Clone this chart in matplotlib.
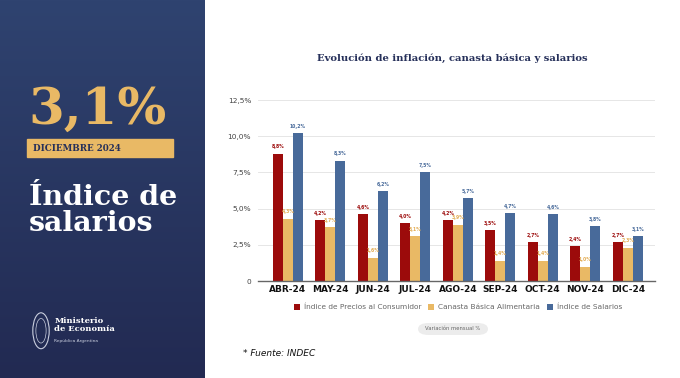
import numpy as np
import matplotlib
matplotlib.use('Agg')
import matplotlib.pyplot as plt
from matplotlib.patches import FancyBboxPatch, Rectangle, Ellipse

months = ['ABR-24', 'MAY-24', 'JUN-24', 'JUL-24', 'AGO-24', 'SEP-24', 'OCT-24', 'NOV-24', 'DIC-24']
ipc = [8.8, 4.2, 4.6, 4.0, 4.2, 3.5, 2.7, 2.4, 2.7]
cba = [4.3, 3.7, 1.6, 3.1, 3.9, 1.4, 1.4, 1.0, 2.3]
salarios = [10.2, 8.3, 6.2, 7.5, 5.7, 4.7, 4.6, 3.8, 3.1]
series_names = ['Índice de Precios al Consumidor', 'Canasta Básica Alimentaria', 'Índice de Salarios']
yticks = [0, 2.5, 5.0, 7.5, 10.0, 12.5]

red = '#9c0b0b'
gold = '#e9b965'
blue = '#486a9a'
navy = '#26305a'

fig = plt.figure(figsize=(6.8, 3.78), dpi=100)
fig.patch.set_facecolor('white')

# left panel with gradient
panel = fig.add_axes([0, 0, 205 / 680, 1])
grad = np.linspace(0, 1, 256).reshape(-1, 1)
cmap = matplotlib.colors.LinearSegmentedColormap.from_list('g', ['#2f4370', '#222a52'])
panel.imshow(grad, aspect='auto', cmap=cmap, extent=[0, 1, 0, 1])
panel.set_xlim(0, 1)
panel.set_ylim(0, 1)
panel.axis('off')

serif = 'DejaVu Serif'
panel.text(0.14, 0.672, '3,1%', color=gold, fontsize=37, fontweight='bold',
           family=serif, va='baseline', ha='left')
panel.add_patch(Rectangle((0.13, 0.585), 0.715, 0.048, color=gold))
panel.text(0.16, 0.608, 'DICIEMBRE 2024', color=navy, fontsize=6.3, fontweight='bold',
           family=serif, va='center', ha='left')
panel.text(0.14, 0.388, 'Índice de\nsalarios', color='white', fontsize=20.5, fontweight='bold',
           family=serif, va='baseline', ha='left', linespacing=0.95)
# emblem + ministry text
panel.add_patch(Ellipse((0.2, 0.125), 0.08, 0.095, fill=False, ec='#c9cede', lw=0.8))
panel.add_patch(Ellipse((0.2, 0.125), 0.05, 0.065, fill=False, ec='#c9cede', lw=0.5))
panel.text(0.265, 0.14, 'Ministerio\nde Economía', color='white', fontsize=6, fontweight='bold',
           family=serif, va='center', ha='left', linespacing=1.0)
panel.text(0.265, 0.097, 'República Argentina', color='#c9cede', fontsize=3.2,
           va='center', ha='left')

# bar chart
ax = fig.add_axes([258 / 680, 1 - 281 / 378, (655 - 258) / 680, (281 - 100) / 378])
x = np.arange(len(months))
w = 0.235
b1 = ax.bar(x - w, ipc, w, color=red, label=series_names[0], zorder=3)
b2 = ax.bar(x, cba, w, color=gold, label=series_names[1], zorder=3)
b3 = ax.bar(x + w, salarios, w, color=blue, label=series_names[2], zorder=3)

def fmt(v):
    return ('%.1f%%' % v).replace('.', ',')

for bars, vals, c in [(b1, ipc, red), (b2, cba, '#e3ad55'), (b3, salarios, blue)]:
    for rect, v in zip(bars, vals):
        ax.text(rect.get_x() + rect.get_width() / 2, v + 0.3, fmt(v), ha='center', va='bottom',
                fontsize=3.3, fontweight='bold', color=c, zorder=4)

ax.set_xlim(-0.7, len(months) - 1 + 0.64)
ax.set_ylim(0, 12.5)
ax.set_yticks(yticks)
ax.set_yticklabels(['0'] + [('%.1f%%' % t).replace('.', ',') for t in yticks[1:]],
                   fontsize=5.3, color='#444444')
ax.set_xticks(x)
ax.set_xticklabels(months, fontsize=6.5, fontweight='bold', color='#111111')
ax.tick_params(length=0, pad=3)
ax.tick_params(axis='y', pad=5)
ax.grid(axis='y', color='#e6e6e6', lw=0.7, zorder=0)
for s in ['top', 'right', 'left']:
    ax.spines[s].set_visible(False)
ax.spines['bottom'].set_color('#666666')
ax.spines['bottom'].set_linewidth(1.0)
ax.spines['bottom'].set_zorder(5)
ax.set_facecolor('white')

fig.text(452 / 680, 1 - 58 / 378, 'Evolución de inflación, canasta básica y salarios',
         ha='center', va='center', fontsize=7.2, fontweight='bold', family=serif, color=navy)

leg = fig.legend(handles=[b1, b2, b3], loc='center', bbox_to_anchor=(458 / 680, 1 - 307 / 378),
                 ncol=3, frameon=False, fontsize=5.3, handlelength=0.8, handleheight=0.8,
                 handletextpad=0.5, columnspacing=1.0, labelcolor='#666666')

pill = FancyBboxPatch((418 / 680, 1 - 335 / 378), 70 / 680, 12 / 378,
                      boxstyle='round,pad=0,rounding_size=0.016', transform=fig.transFigure,
                      fc='#ececec', ec='none')
fig.patches.append(pill)
fig.text(453 / 680, 1 - 329 / 378, 'Variación mensual %', ha='center', va='center',
         fontsize=3.8, color='#666666')

fig.text(243 / 680, 1 - 354 / 378, '* Fuente: INDEC', ha='left', va='center',
         fontsize=6.5, style='italic', color='#111111')

fig.savefig('out.png', dpi=100)
